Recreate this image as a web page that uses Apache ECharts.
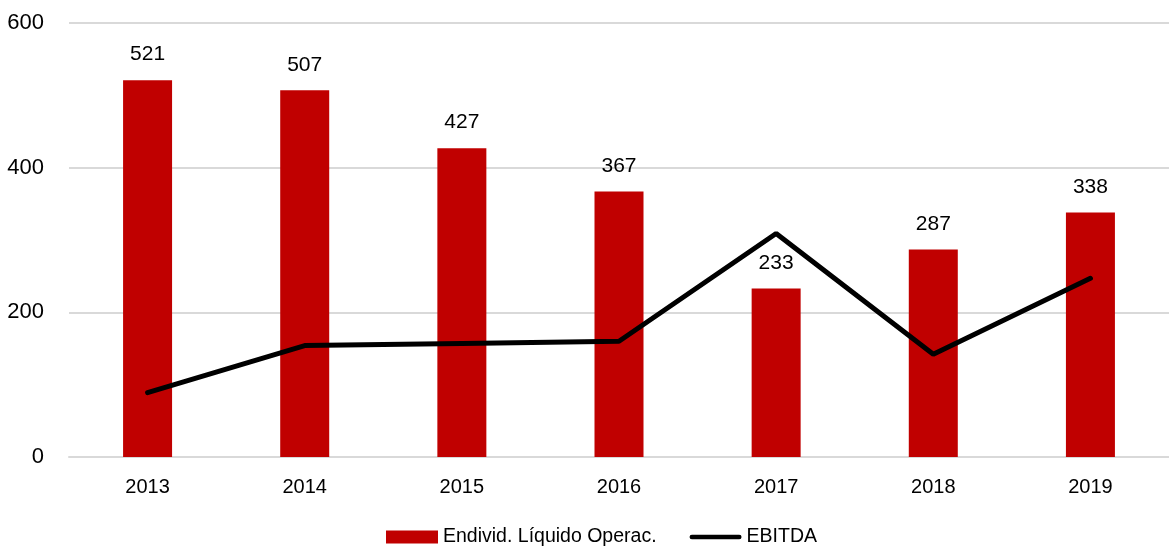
<!DOCTYPE html>
<html>
<head>
<meta charset="utf-8">
<script src="https://cdn.jsdelivr.net/npm/echarts@6/dist/echarts.min.js"></script>
<style>
  html, body { margin: 0; padding: 0; background: #fff; }
  #chart { width: 1169px; height: 552px; }
</style>
</head>
<body>
<div id="chart"></div>
<script>
// 数据
const years = ['2013', '2014', '2015', '2016', '2017', '2018', '2019'];
const endividValues = [521, 507, 427, 367, 233, 287, 338];
const ebitdaValues = [89, 154, 157, 160, 309, 142, 247];

const fontName = '"Liberation Sans Narrow", "Arial Narrow", "Liberation Sans", Arial, sans-serif';

const chart = echarts.init(document.getElementById('chart'));

const option = {
  animation: false,
  textStyle: { fontFamily: fontName },
  grid: {
    left: 69,
    right: -8,
    top: 23,
    bottom: 95
  },
  legend: {
    bottom: 5,
    left: 386,
    padding: 0,
    itemGap: 33,
    itemWidth: 52,
    itemHeight: 13,
    textStyle: { fontSize: 19.5, color: '#000', fontFamily: fontName },
    data: [
      { name: 'Endivid. Líquido Operac.', icon: 'rect' },
      {
        name: 'EBITDA',
        // 粗线图例：上下留空，只画中间一条
        icon: 'path://M0,0 M56,13 M2,4 L54,4 A2.5,2.5 0 0 1 54,9 L2,9 A2.5,2.5 0 0 1 2,4 Z',
        itemStyle: { color: '#000' }
      }
    ]
  },
  xAxis: {
    type: 'category',
    data: years,
    axisLine: { lineStyle: { color: '#d9d9d9', width: 2 } },
    axisTick: { show: false },
    axisLabel: { fontSize: 20, color: '#000', margin: 20, fontFamily: fontName }
  },
  yAxis: {
    type: 'value',
    min: 0,
    max: 600,
    interval: 200,
    axisLine: { show: false },
    axisTick: { show: false },
    splitLine: { lineStyle: { color: '#d9d9d9', width: 2 } },
    axisLabel: { fontSize: 22, color: '#000', margin: 25, fontFamily: fontName }
  },
  series: [
    {
      name: 'Endivid. Líquido Operac.',
      type: 'bar',
      data: endividValues,
      barWidth: 49,
      itemStyle: { color: '#c00000' },
      label: {
        show: true,
        position: 'top',
        distance: 15,
        fontSize: 21,
        color: '#000',
        fontFamily: fontName
      }
    },
    {
      name: 'EBITDA',
      type: 'line',
      data: ebitdaValues,
      symbol: 'none',
      itemStyle: { color: '#000' },
      lineStyle: { color: '#000', width: 5, cap: 'round' },
      z: 3
    }
  ]
};

chart.setOption(option);
</script>
</body>
</html>
